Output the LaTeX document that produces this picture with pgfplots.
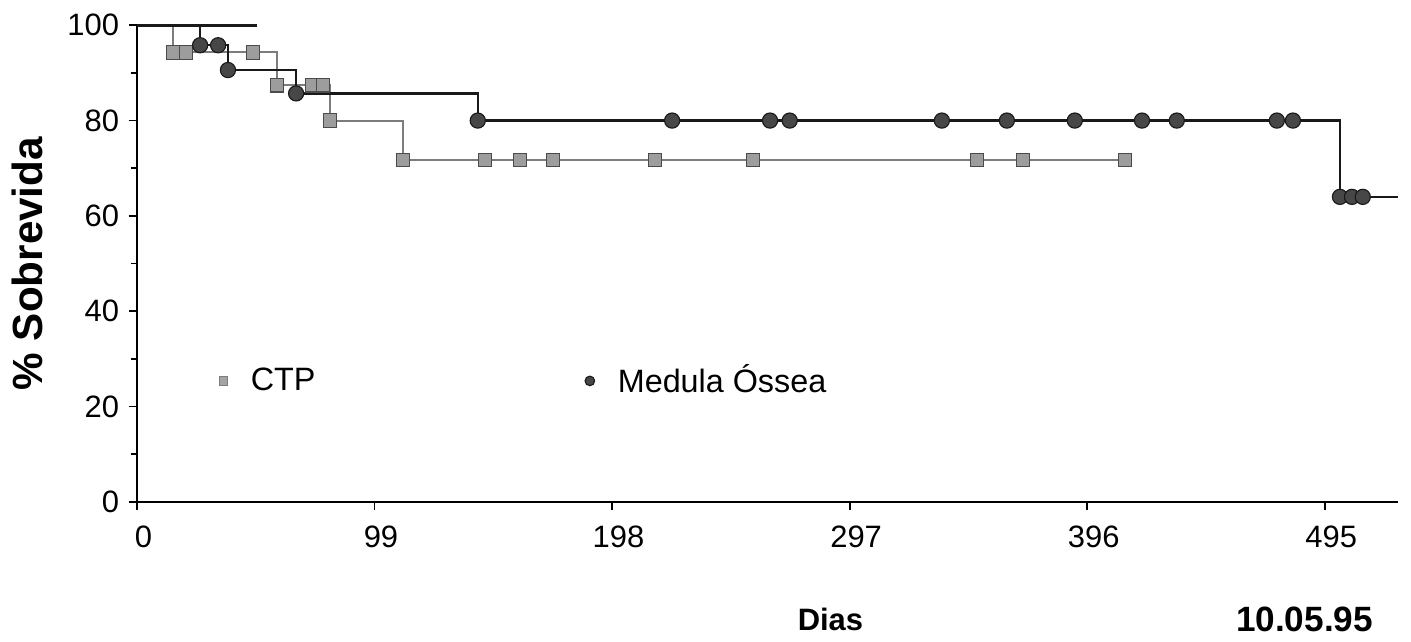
\documentclass[border=0pt]{standalone}
\usepackage{fontspec}
\setmainfont{Liberation Sans}
\usepackage{pgfplots}
\pgfplotsset{compat=1.18}
\definecolor{ctpgray}{RGB}{125,125,125}
\definecolor{moblack}{RGB}{25,25,25}
\begin{document}
\begin{tikzpicture}
\begin{axis}[
    scale only axis,
    width=157.6mm, height=59.6mm,
    at={(0,0)}, anchor=south west,
    xmin=0, xmax=525.4, ymin=0, ymax=100,
    axis lines=left,
    axis line style={-, line width=0.8pt},
    xtick={0,99,198,297,396,495},
    ytick={0,20,40,60,80,100},
    minor y tick num=1,
    tick align=outside,
    major tick length=1mm, minor tick length=0.8mm,
    tick style={line width=0.6pt, black},
    /pgf/number format/assume math mode=true,
    tick label style={font=\fontsize{11}{13}\selectfont},
    xticklabel style={xshift=0.8mm, yshift=-0.8mm},
    ylabel={\% Sobrevida},
    ylabel style={font=\fontsize{15}{17}\selectfont\bfseries, yshift=0.7mm},
    xlabel={Dias},
    xlabel style={at={(axis description cs:0.55,0)}, anchor=center, yshift=-14.7mm,
                  font=\fontsize{11}{13}\selectfont\bfseries},
    clip=false,
    legend columns=2,
    legend style={at={(axis description cs:0.058,0.254)}, anchor=west,
                  draw=none, fill=none, font=\fontsize{11.5}{13}\selectfont,
                  /tikz/every odd column/.append style={column sep=2.2mm},
                  /tikz/every even column/.append style={column sep=33mm}},
]
% legend entries (markers only)
\addlegendimage{only marks, mark=square*, mark size=1.5pt,
    mark options={fill=ctpgray!70, draw=ctpgray}}
\addlegendentry{CTP}
\addlegendimage{only marks, mark=*, mark size=1.7pt,
    mark options={fill=moblack!80, draw=moblack}}
\addlegendentry{Medula Óssea}

% CTP curve
\addplot[const plot, color=ctpgray, line width=0.7pt, forget plot]
    coordinates {(0,100)(15,94.3)(58.3,87.4)(80.4,80)(110.8,71.7)(411.7,71.7)};
\addplot[only marks, mark=square*, mark size=2.4pt,
    mark options={fill=ctpgray!75, draw=ctpgray!60!black}, forget plot]
    coordinates {(15,94.3)(20.4,94.3)(48.3,94.3)(58.3,87.4)(73,87.4)(77.5,87.4)
                 (80.4,80)(110.8,71.7)(145,71.7)(159.6,71.7)(173.3,71.7)
                 (215.8,71.7)(256.7,71.7)(350,71.7)(369.2,71.7)(411.7,71.7)};

% Medula Ossea curve
\addplot[const plot, color=moblack, line width=0.8pt, forget plot]
    coordinates {(0,100)(26.3,95.8)(37.9,90.6)(66.3,85.7)(142,80)(501.3,64)(525.4,64)};
\addplot[color=moblack, line width=1pt, forget plot]
    coordinates {(0,100)(50,100)};
\addplot[only marks, mark=*, mark size=2.7pt,
    mark options={fill=moblack!80, draw=moblack}, forget plot]
    coordinates {(26.3,95.8)(33.8,95.8)(37.9,90.6)(66.3,85.7)(142,80)(223,80)
                 (263.8,80)(272,80)(335.4,80)(362.5,80)(390.8,80)(418.8,80)
                 (433.3,80)(475,80)(481.7,80)(501.3,64)(506.3,64)(510.8,64)};

\node[font=\fontsize{12.5}{14}\selectfont\bfseries, anchor=center]
    at (axis description cs:0.926,-0.247) {10.05.95};
\end{axis}
\pgfresetboundingbox
\path[use as bounding box] (-17.125mm,-17.375mm) rectangle (159.25mm,62.75mm);
\end{tikzpicture}
\end{document}
